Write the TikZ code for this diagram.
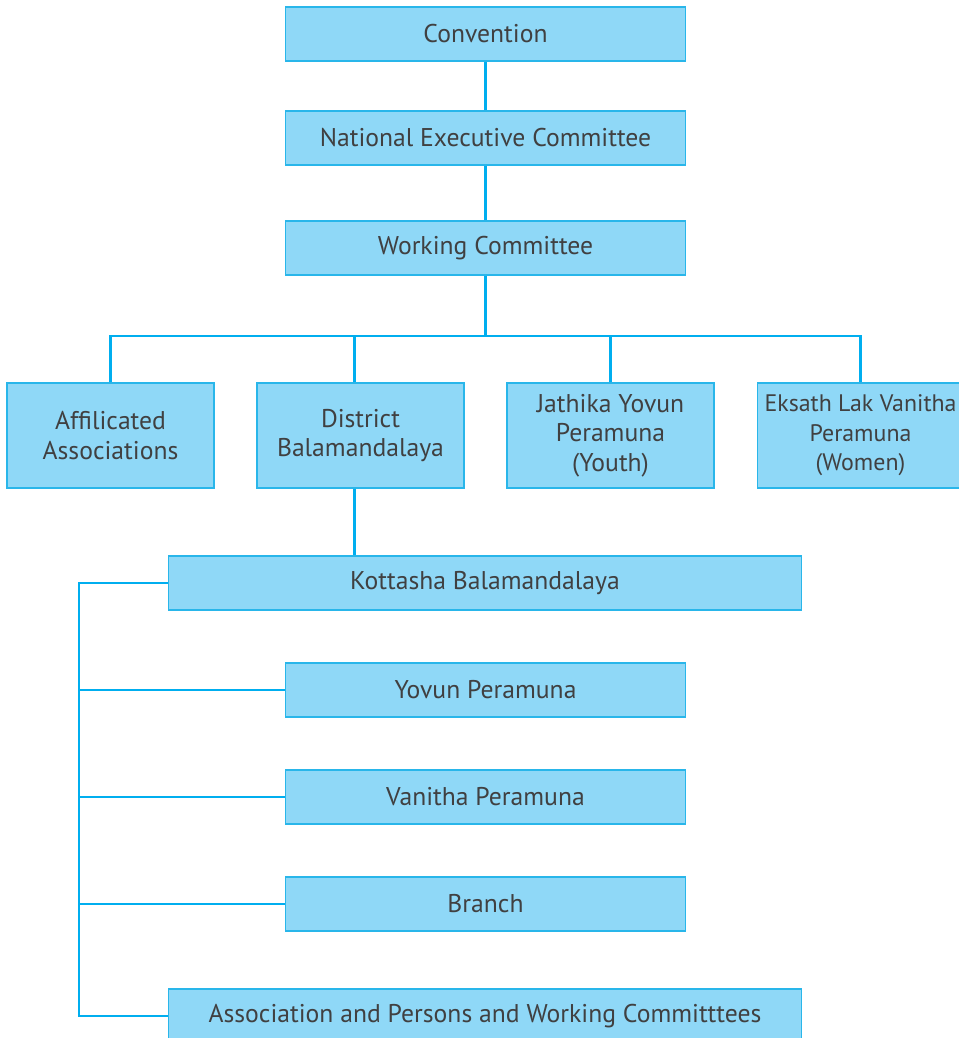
\documentclass[tikz,border=0pt]{standalone}
\usepackage{fontspec}
\setmainfont{PT Sans}
\usetikzlibrary{positioning,calc}
\definecolor{boxfill}{HTML}{8FD8F7}
\definecolor{boxline}{HTML}{29B6EA}
\definecolor{linkcol}{HTML}{00AEEF}
\definecolor{txtcol}{HTML}{404041}
\begin{document}
\begin{tikzpicture}[
  x=0.02cm, y=-0.02cm, font=\fontsize{14.6}{16.8}\selectfont, text=txtcol,
  unit/.style={rectangle, draw=boxline, fill=boxfill, line width=0.6pt, inner sep=0pt, align=center, minimum height=1.08cm},
  midbox/.style={unit, minimum width=8.02cm},
  widebox/.style={unit, minimum width=12.68cm},
  wingbox/.style={unit, minimum width=4.14cm, minimum height=2.1cm},
  link/.style={draw=linkcol, line width=1.4pt}
]
\useasboundingbox (0,0) rectangle (959,1038);

% top chain
\node[midbox] (conv) at (485.5,34) {Convention};
\node[midbox] (nec) at (485.5,138) {National Executive Committee};
\node[midbox] (wc) at (485.5,248) {Working Committee};

% wings
\node[wingbox] (aff) at (110.5,435.5) {Affilicated\\Associations};
\node[wingbox] (dist) at (360.5,435.5) {District\\Balamandalaya};
\node[wingbox] (jat) at (610.5,435.5) {Jathika Yovun\\Peramuna\\(Youth)};
\node[wingbox, font=\fontsize{13.6}{16.8}\selectfont] (eks) at (860.5,435.5) {Eksath Lak Vanitha\\Peramuna\\(Women)};

% lower levels
\node[widebox] (kot) at (485,583) {Kottasha Balamandalaya};
\node[midbox] (yov) at (485.5,690) {Yovun Peramuna};
\node[midbox] (van) at (485.5,797) {Vanitha Peramuna};
\node[midbox] (br) at (485.5,904) {Branch};
\node[widebox] (ass) at (485,1016) {Association and Persons and Working Committtees};

\coordinate (bus) at (485.5,336);
\coordinate (lbus) at (79,583);

\draw[link] (conv) -- (nec);
\draw[link] (nec) -- (wc);
\draw[link] (wc.south) -- (bus);
\draw[link] (aff.north) |- (bus) -| (eks.north);
\draw[link] ([xshift=-0.12cm]dist.north) -- ([xshift=-0.12cm]dist.north |- bus);
\draw[link] (jat.north) -- (jat.north |- bus);
\draw[link] ([xshift=-0.12cm]dist.south) -- ([xshift=-0.12cm]dist.south |- kot.north);

\draw[link] (kot.west) -- (lbus) -- (lbus |- ass.west) -- (ass.west);
\foreach \n in {yov,van,br} {
  \draw[link] (\n.west) -- (\n.west -| lbus);
}

\end{tikzpicture}
\end{document}
